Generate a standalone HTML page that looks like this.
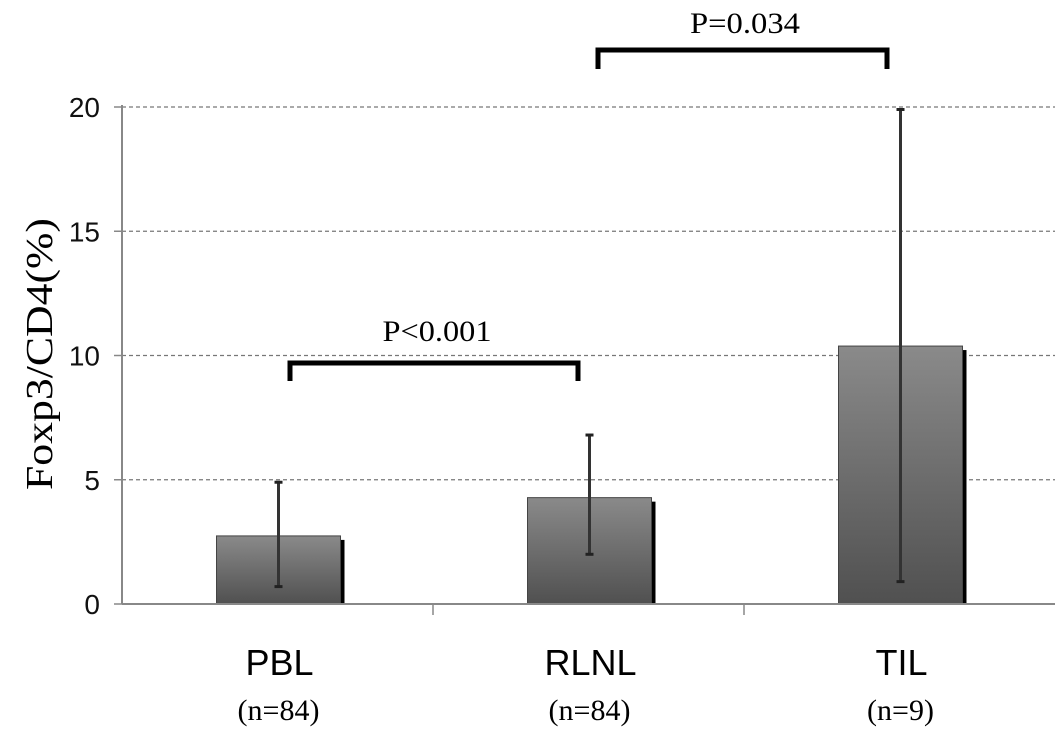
<!DOCTYPE html>
<html><head><meta charset="utf-8">
<style>
html,body{margin:0;padding:0;background:#fff;}
svg{display:block;}
</style></head>
<body>
<svg id="chart" width="1063" height="743" viewBox="0 0 1063 743" xmlns="http://www.w3.org/2000/svg">
<defs>
<linearGradient id="barGrad" x1="0" y1="0" x2="0" y2="1">
<stop offset="0" stop-color="#8a8a8a"/>
<stop offset="1" stop-color="#505050"/>
</linearGradient>
</defs>
<text transform="translate(52,354) rotate(-90)" text-anchor="middle" font-family="Liberation Serif, serif" font-size="38" textLength="272" lengthAdjust="spacingAndGlyphs" fill="#000">Foxp3/CD4(%)</text>
<g id="grid"></g>
<g id="bars"></g>
<g id="axes"></g>
<g>
<path d="M290,381 L290,363 L578,363 L578,381" fill="none" stroke="#000" stroke-width="5"/>
<text x="437" y="341" text-anchor="middle" font-family="Liberation Serif, serif" font-size="30" textLength="109" lengthAdjust="spacingAndGlyphs">P&lt;0.001</text>
</g>
<g>
<path d="M598,69 L598,50 L887,50 L887,69" fill="none" stroke="#000" stroke-width="5"/>
<text x="745" y="33" text-anchor="middle" font-family="Liberation Serif, serif" font-size="30" textLength="110" lengthAdjust="spacingAndGlyphs">P=0.034</text>
</g>
</svg>
<script>
const categories = ["PBL","RLNL","TIL"];
const nLabels = ["(n=84)","(n=84)","(n=9)"];
const means = [2.74, 4.28, 10.38];
const errLow = [0.7, 2.0, 0.9];
const errHigh = [4.9, 6.8, 19.9];
const yTicks = [0,5,10,15,20];

const NS = "http://www.w3.org/2000/svg";
const x0 = 122, x1 = 1055, y0 = 604, yTop = 107, yMax = 20;
const band = (x1 - x0) / categories.length;
function yScale(v){ return y0 - (v / yMax) * (y0 - yTop); }
function xCenter(i){ return x0 + band * (i + 0.5); }
function mk(tag, attrs, parent){ const e = document.createElementNS(NS, tag); for (const k in attrs) e.setAttribute(k, attrs[k]); parent.appendChild(e); return e; }

const grid = document.getElementById('grid');
const axes = document.getElementById('axes');
const bars = document.getElementById('bars');

yTicks.forEach(t => {
  const y = yScale(t);
  if (t > 0) {
    const g = mk('line', {x1: x0, x2: x1, y1: y, y2: y, stroke: '#777', 'stroke-width': 1.2, 'stroke-dasharray': '4,3'}, grid);
    
    
  }
  const tk = mk('line', {x1: x0 - 8, x2: x0, y1: y, y2: y, stroke: '#888', 'stroke-width': 1.5}, axes);
  
  
  const lb = mk('text', {x: 100, y: y + 10, 'text-anchor': 'end', 'font-family': 'Liberation Sans, sans-serif', 'font-size': 28, fill: '#111'}, axes);
  lb.textContent = t;
  
  
});

const yax = mk('line', {x1: x0, x2: x0, y1: yTop - 2, y2: y0, stroke: '#888', 'stroke-width': 2}, axes);


const xax = mk('line', {x1: x0, x2: x1, y1: y0, y2: y0, stroke: '#888', 'stroke-width': 2}, axes);


for (let i = 1; i < categories.length; i++) {
  const x = x0 + band * i;
  const t = mk('line', {x1: x, x2: x, y1: y0, y2: y0 + 11, stroke: '#888', 'stroke-width': 1.5}, axes);
  
  
}

const barW = 124;
categories.forEach((c, i) => {
  const cx = xCenter(i);
  const left = cx - 61;
  const top = yScale(means[i]);
  const sh = mk('rect', {x: left + barW, y: top + 4, width: 4, height: y0 - top - 4, fill: '#000'}, bars);
  
  
  const r = mk('rect', {x: left, y: top, width: barW, height: y0 - top, fill: 'url(#barGrad)', stroke: '#444', 'stroke-width': 1}, bars);
  
  
  const ex = left + 62;
  const el = mk('line', {x1: ex, x2: ex, y1: yScale(errHigh[i]), y2: yScale(errLow[i]), stroke: '#333', 'stroke-width': 3}, bars);
  
  
  [errLow[i], errHigh[i]].forEach(v => {
    const cap = mk('line', {x1: ex - 4, x2: ex + 4, y1: yScale(v), y2: yScale(v), stroke: '#222', 'stroke-width': 3}, bars);
    
    
  });
  const lt = mk('text', {x: ex + 1, y: 675, 'text-anchor': 'middle', 'font-family': 'Liberation Sans, sans-serif', 'font-size': 36, fill: '#000'}, axes);
  lt.textContent = c;
  
  
  const nt = mk('text', {x: ex, y: 720, 'text-anchor': 'middle', 'font-family': 'Liberation Serif, serif', 'font-size': 30, fill: '#000'}, axes);
  nt.textContent = nLabels[i];
  
  
});
</script>
</body></html>
